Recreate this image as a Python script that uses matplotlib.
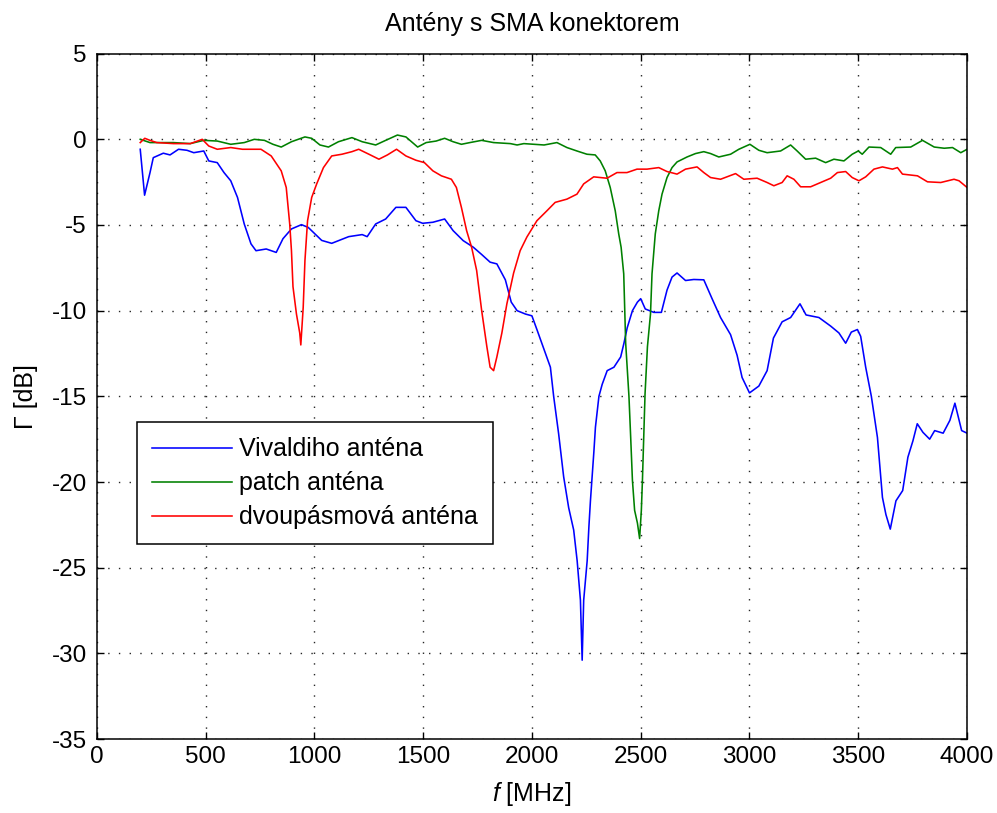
import matplotlib
matplotlib.use("Agg")
import matplotlib.pyplot as plt
import numpy as np

plt.rcParams['font.family'] = ['Liberation Sans', 'DejaVu Sans']
plt.rcParams['mathtext.fontset'] = 'custom'
plt.rcParams['mathtext.it'] = 'Liberation Sans:italic'
plt.rcParams['mathtext.rm'] = 'Liberation Sans'
plt.rcParams['axes.unicode_minus'] = False

# --- data (frequency in MHz, reflection coefficient in dB) ---
freq_viv = [200, 220, 245, 260, 306, 337, 376, 415, 446, 492, 515, 554, 585, 616, 647, 678, 709, 732, 779, 825,
            856, 895, 941, 972, 1034, 1080, 1158, 1220, 1243, 1282, 1328, 1375, 1421, 1467, 1498, 1545, 1599, 1638,
            1684, 1731, 1769, 1808, 1839, 1878, 1905, 1932, 1971, 2000, 2023, 2054, 2085, 2100, 2123, 2146, 2169,
            2192, 2208, 2223, 2231, 2238, 2254, 2262, 2269, 2285, 2292, 2308, 2323, 2346, 2377, 2408, 2423, 2438,
            2462, 2485, 2500, 2521, 2560, 2595, 2621, 2644, 2667, 2706, 2744, 2790, 2828, 2867, 2913, 2943, 2966,
            3000, 3043, 3081, 3110, 3150, 3189, 3232, 3260, 3319, 3373, 3411, 3442, 3468, 3496, 3511, 3534, 3560,
            3588, 3611, 3627, 3647, 3673, 3704, 3728, 3751, 3771, 3797, 3828, 3851, 3890, 3921, 3944, 3975, 4000]
gamma_viv = [-0.58, -3.26, -1.94, -1.07, -0.81, -0.91, -0.58, -0.64, -0.78, -0.68, -1.26, -1.36, -1.94, -2.42,
             -3.39, -4.94, -6.1, -6.5, -6.4, -6.6, -5.8, -5.23, -4.98, -5.14, -5.9, -6.07, -5.68, -5.56, -5.68,
             -4.94, -4.65, -3.97, -3.97, -4.75, -4.9, -4.84, -4.65, -5.33, -5.91, -6.3, -6.72, -7.17, -7.27, -8.2,
             -9.5, -10.0, -10.2, -10.3, -11.1, -12.2, -13.3, -15.0, -17.2, -19.7, -21.5, -22.8, -24.6, -26.9,
             -30.4, -26.9, -24.6, -22.6, -21.1, -18.2, -16.8, -15.0, -14.3, -13.5, -13.3, -12.7, -11.9, -11.0,
             -10.0, -9.5, -9.3, -9.9, -10.1, -10.1, -8.8, -8.04, -7.8, -8.24, -8.18, -8.2, -9.3, -10.4, -11.4,
             -12.6, -13.9, -14.8, -14.4, -13.5, -11.6, -10.65, -10.4, -9.6, -10.25, -10.4, -10.9, -11.3, -11.9,
             -11.25, -11.1, -11.5, -13.3, -15.0, -17.4, -20.9, -21.9, -22.75, -21.1, -20.5, -18.55, -17.6, -16.6,
             -17.1, -17.5, -17.0, -17.15, -16.4, -15.4, -17.0, -17.15]

freq_patch = [200, 245, 353, 430, 492, 554, 616, 678, 724, 771, 810, 848, 895, 957, 988, 1026, 1065, 1111, 1173,
              1220, 1282, 1328, 1382, 1421, 1475, 1514, 1560, 1599, 1638, 1676, 1715, 1769, 1824, 1901, 1932, 1963,
              2056, 2115, 2161, 2207, 2253, 2291, 2314, 2337, 2360, 2383, 2399, 2410, 2422, 2431, 2446, 2454, 2462,
              2472, 2485, 2495, 2503, 2508, 2512, 2520, 2531, 2545, 2552, 2567, 2583, 2598, 2621, 2644, 2667, 2713,
              2752, 2790, 2821, 2859, 2913, 2951, 3002, 3043, 3081, 3143, 3189, 3219, 3258, 3304, 3350, 3388, 3434,
              3472, 3500, 3518, 3549, 3603, 3649, 3672, 3741, 3795, 3849, 3895, 3933, 3971, 4000]
gamma_patch = [0, -0.19, -0.19, -0.25, -0.06, -0.1, -0.29, -0.19, 0, -0.06, -0.29, -0.45, -0.14, 0.14, 0.06, -0.33,
               -0.45, -0.14, 0.1, -0.14, -0.33, -0.06, 0.25, 0.14, -0.45, -0.19, -0.1, 0.06, -0.14, -0.29, -0.19,
               -0.06, -0.19, -0.25, -0.33, -0.25, -0.33, -0.19, -0.48, -0.68, -0.87, -0.91, -1.26, -1.84, -2.81,
               -4.17, -5.52, -6.3, -7.85, -11.9, -15.0, -17.4, -19.9, -21.65, -22.4, -23.3, -21.65, -19.9, -18.2,
               -14.85, -12.1, -10.2, -7.85, -5.52, -4.17, -3.2, -2.23, -1.65, -1.32, -1.03, -0.83, -0.72, -0.83,
               -1.03, -0.87, -0.58, -0.29, -0.64, -0.78, -0.68, -0.33, -0.68, -1.16, -1.1, -1.36, -1.16, -1.26,
               -0.87, -0.68, -0.87, -0.45, -0.48, -0.87, -0.48, -0.45, -0.06, -0.45, -0.52, -0.48, -0.78, -0.58]

freq_dual = [200, 221, 245, 276, 353, 430, 485, 515, 554, 616, 670, 755, 802, 848, 871, 887, 895, 902, 918, 933,
             938, 949, 957, 969, 988, 1011, 1042, 1080, 1127, 1173, 1204, 1251, 1297, 1336, 1378, 1421, 1467, 1506,
             1545, 1584, 1630, 1653, 1676, 1700, 1723, 1746, 1769, 1793, 1808, 1824, 1839, 1862, 1885, 1916, 1946,
             1977, 2023, 2069, 2107, 2161, 2207, 2238, 2284, 2345, 2391, 2437, 2483, 2529, 2583, 2621, 2667, 2706,
             2759, 2790, 2821, 2867, 2936, 2974, 3035, 3081, 3112, 3150, 3173, 3204, 3235, 3281, 3327, 3373, 3404,
             3442, 3472, 3503, 3534, 3572, 3611, 3657, 3680, 3703, 3772, 3818, 3879, 3940, 3963, 4000]
gamma_dual = [-0.19, 0.06, -0.06, -0.19, -0.25, -0.25, 0, -0.39, -0.58, -0.48, -0.58, -0.58, -0.97, -1.84, -2.81,
              -4.94, -6.5, -8.6, -10.2, -11.3, -12.0, -9.8, -7.07, -4.75, -3.39, -2.6, -1.65, -0.97, -0.87, -0.72,
              -0.58, -0.87, -1.16, -0.91, -0.58, -0.97, -1.22, -1.36, -1.84, -2.13, -2.33, -2.81, -3.97, -5.33,
              -6.3, -7.65, -9.98, -12.1, -13.3, -13.5, -12.7, -11.3, -9.6, -7.8, -6.5, -5.7, -4.75, -4.17, -3.68,
              -3.49, -3.2, -2.6, -2.19, -2.27, -1.94, -1.94, -1.74, -1.74, -1.65, -1.88, -2.03, -1.74, -1.61,
              -1.94, -2.23, -2.33, -2.0, -2.33, -2.27, -2.52, -2.71, -2.52, -2.13, -2.33, -2.77, -2.77, -2.52,
              -2.27, -1.94, -1.88, -2.23, -2.42, -2.19, -1.74, -1.61, -1.74, -1.65, -2.03, -2.13, -2.48, -2.52,
              -2.33, -2.42, -2.81]

labels = ['Vivaldiho anténa', 'patch anténa', 'dvoupásmová anténa']
colors = ['#0000ff', '#008000', '#ff0000']
x_ticks = [0, 500, 1000, 1500, 2000, 2500, 3000, 3500, 4000]
y_ticks = [5, 0, -5, -10, -15, -20, -25, -30, -35]

fig = plt.figure(figsize=(9.97, 8.13), dpi=100)
ax = fig.add_axes([0.097, 0.091, 0.873, 0.843])

series = [(freq_viv, gamma_viv), (freq_patch, gamma_patch), (freq_dual, gamma_dual)]
for (f, g), lab, c in zip(series, labels, colors):
    ax.plot(f, g, color=c, lw=1.15, label=lab)

ax.set_xlim(0, 4000)
ax.set_ylim(-35, 5)
ax.set_xticks(x_ticks)
ax.set_yticks(y_ticks)
ax.tick_params(direction='in', length=5, width=1.0, top=True, right=True, labelsize=17.5, colors='black')
ax.tick_params(axis='x', pad=5)
ax.tick_params(axis='y', pad=7)
for s in ax.spines.values():
    s.set_linewidth(1.1)
ax.grid(True, color='black', linestyle=(0, (1, 6.7)), linewidth=1.0, alpha=0.85)

ax.set_title('Antény s SMA konektorem', fontsize=18, pad=16)
ax.set_xlabel('$\\it{f}$ [MHz]', fontsize=18, labelpad=9)
ax.set_ylabel('Γ [dB]', fontsize=18, labelpad=10)

leg = ax.legend(loc='lower left', bbox_to_anchor=(0.046, 0.284), fontsize=18, frameon=True, fancybox=False,
                edgecolor='black', framealpha=1, borderpad=0.6, handlelength=3.2, handletextpad=0.3,
                labelspacing=0.4, borderaxespad=0)
leg.get_frame().set_linewidth(1.1)

fig.savefig('out.png', dpi=100)
